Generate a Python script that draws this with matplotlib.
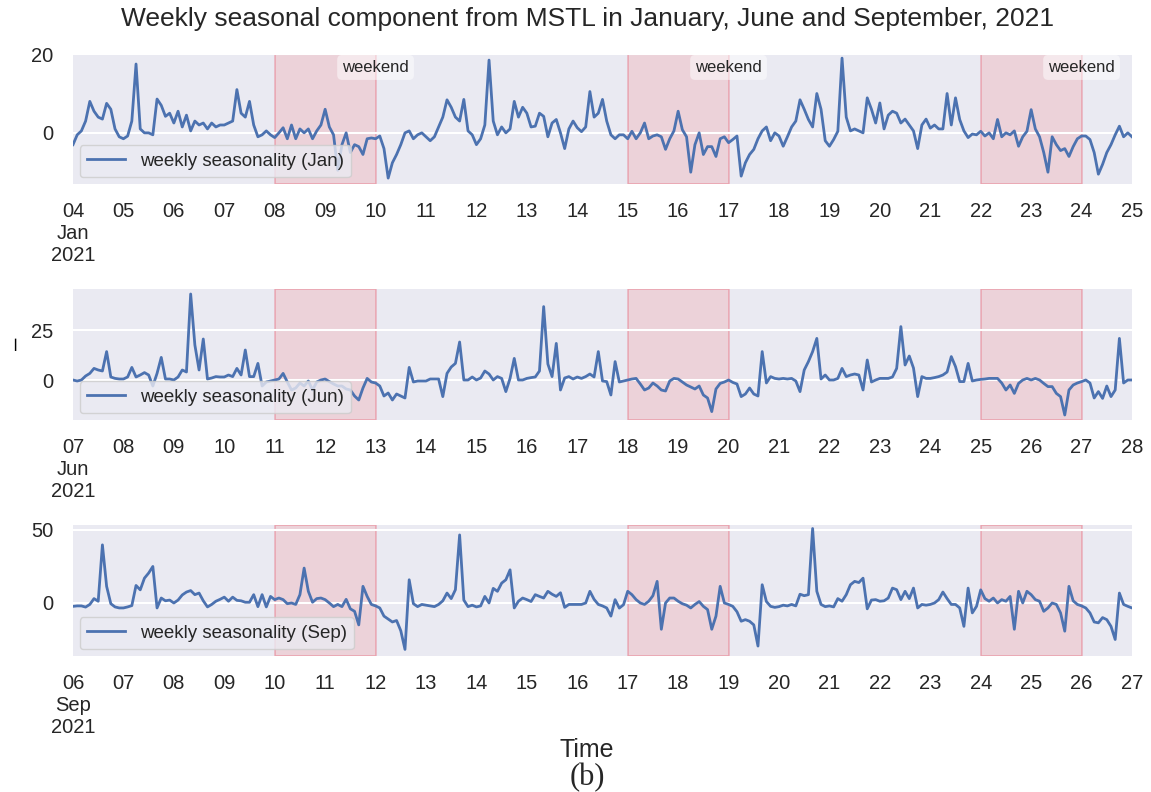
import matplotlib

matplotlib.use("Agg")
import matplotlib.pyplot as plt
import matplotlib.transforms as mtransforms
import pandas as pd

# Weekly seasonal component, every 2 hours (one row per day, 00h..22h)
jan_days = [
    [-3, -0.5, 0.5, 3, 8, 5.5, 4, 3.5, 7.5, 6, 1, -1],          # 04
    [-1.5, -0.8, 3, 17.5, 1, 0, 0, -0.5, 8.6, 7, 4.2, 5],        # 05
    [2.5, 5.5, 1.5, 4.5, 0.5, 3, 2, 2.5, 1, 2.5, 1.5, 2],        # 06
    [2, 2.5, 3, 11, 5, 4, 8, 2, -1, -0.5, 0.5, -0.5],            # 07
    [-1.2, 0, 1.3, -1.5, 2, -1.5, 1, 0, 1, -1.5, 0.5, 2],        # 08
    [6, 1.5, -0.5, -9.5, -3, 0, -5, -3, -3.5, -5.5, -1.5, -1.3], # 09
    [-1.5, -0.8, -4, -11.5, -7.6, -5.5, -3, 0, 0.5, -1.5, -0.5, 0],
    [-1, -2, -1, 1.5, 4, 8.4, 6.5, 4, 3, 8.5, 0.5, -0.5],        # 11
    [-3, -1.5, 2, 18.5, 3, -0.5, 1.5, 0, 1, 8, 4, 6.5],
    [5, 1.5, 1.7, 5, 4.2, -1, 2.5, 3.4, 0, -4, 1, 3],
    [1.3, 0.3, 1.5, 10.5, 4, 5, 8.5, 3, -0.5, -1.5, -0.5, -0.5],
    [-1.5, 0.4, -1.5, 0, 2.5, -1.5, -0.8, -0.5, -1, -4.2, -1.5, 0.5],
    [5.5, 0.8, -1, -10, -3, 0, -5.5, -3.5, -3.5, -6, -1.5, -1],
    [-2.5, -1.7, -0.8, -11, -7.6, -5.5, -4.2, -1.5, 0.5, 1.5, -2, 0],
    [-0.8, -3.4, -1, 1.5, 3, 8.4, 6, 3.4, 1.5, 10, 6, -2],       # 18
    [-3.4, -1.7, 0.4, 19, 4, 0.5, 1, 0.5, 0, 8.9, 6, 2.5],
    [7.6, 1, 4.5, 5.5, 5, 2.5, 3.5, 2, 0.5, -4, 2, 3.5],
    [1.2, 2, 1, 1, 10, 2, 8.9, 3.4, 0.5, -1.2, -0.3, -0.5],
    [0.4, -0.8, 0, -1.5, 3.4, -1, 0, -0.5, 0.5, -3.4, -1, 0.4],
    [5.9, 1, -1, -5, -10, -1, -3, -4.5, -4, -6, -3.5, -1.5],
    [-0.8, -0.8, -1.7, -5, -10.5, -8, -5, -3, -0.5, 1.7, -1, 0],
]
jan_last = -1

jun_days = [
    [0, -0.5, 0, 2, 3.3, 5.8, 5, 4.5, 14.2, 1.5, 0.8, 0.5],      # 07
    [0.5, 1.5, 6.3, 1.5, 2.5, 3.7, 2.5, -3, 3.3, 11.3, 0.5, 0.5],
    [0, 1.5, 5, 4, 43, 17.5, 5, 20.5, 0.5, 1, 1.7, 1.5],
    [1.5, 2.5, 1.7, 5.8, 2.5, 15, 1.7, 1.7, 8.3, -3, -1, -0.5],
    [0, 0.5, 3.3, -1, -5, -4, -1.5, -3, -0.5, -5, -1, 0],
    [0.5, -0.8, -2, -3, -3, -4.5, -5, -8, -10, -4, 0.8, -1],
    [-1.5, -3, -8, -6.5, -10, -7, -8, -9, 6.3, -1, -0.5, -0.5],
    [-0.5, 0.5, 0.5, 0.5, -8.3, 3.3, 6.5, 8.3, 19, 0, 0, 1.5],   # 14
    [0, 1, 4.5, 3, 0, 1.7, 0.8, -5.8, 0.8, 10.8, 0, 0],
    [0.8, 1.2, 1.5, 4.5, 36.7, 8, 1.7, 18.3, -5, 1, 1.7, 0.5],
    [1.5, 0.8, 1.7, 3, 1.5, 14.2, -0.5, -0.8, -7.5, 9.2, -1, -0.5],
    [0, 0.5, 0.8, -2, -5, -4, -1.5, -3, -5, -5.5, -0.5, 0.8],
    [0.5, -1, -2.5, -3.5, -4.5, -3, -7.5, -9, -15.8, -4.5, -1.7, -1],
    [0, -1.2, -2, -8.3, -7, -4, -7, -8, 14.2, -1.5, 1.7, 0.8],
    [0.5, 0.8, 0.5, 0.8, -0.5, -5.8, 5, 9.2, 14.2, 20.8, 0.5, 2.5],  # 21
    [0, 0, 0.8, 5.8, 1.7, 2.5, 3, 2.5, -5, 10, -1, 0],
    [0.8, 0.8, 0.8, 1.5, 5.8, 26.7, 7.5, 12, 6, -8.3, 1.7, 0.8],
    [0.8, 1.2, 1.7, 2.5, 4, 11.7, 6.7, -0.8, -0.8, 8.3, -0.5, 0],
    [0.3, 0.5, 0.8, 0.8, 0.8, -1.5, -5, -2.5, -6.7, -1.7, 0, 0.8],
    [0, 0.8, 0, -1.7, -3.3, -3.3, -6.7, -8.3, -17.5, -5, -2.5, -1.5],
    [-0.8, 0, -1.5, -9, -5.8, -9.2, -3, -8.3, -5, 20.8, -1.5, 0],
]
jun_last = 0

sep_days = [
    [-2.3, -2, -2, -2.8, -1, 3, 1.2, 39.8, 11.4, -0.5, -2.7, -3.4],  # 06
    [-3.4, -2.7, -1.8, 12, 9, 17, 20.5, 25, -3.4, 3.4, 1.5, 2],
    [0, 2, 5.5, 7.5, 8.5, 5.7, 6.8, 1.5, -2.7, -1, 1.2, 2.5],
    [4, 1.2, 4, 1.8, 1.5, 0.5, 0.5, 5.7, -2.5, 5.7, -2.7, 4.5],
    [2.3, 3.4, 2.3, -0.5, 0, -1, 5.7, 23.9, 8, 0.5, 3, 3.4],
    [2.3, 0, -2.5, -1, -2.5, 2.5, -4, -5.7, -15, 11.4, 4.5, -1],
    [-2, -3.4, -9, -11, -13, -12, -19, -31.8, 15.9, -0.5, -2.5, -1],
    [-1.5, -2, -2.5, -1, 1.5, 6.8, 3, 9.1, 46.6, 2, -2.5, -1.5],    # 13
    [-2.7, -2, 4.5, 0, 10, 8, 13.6, 15.9, 22.7, -3.4, 1.2, 3.4],
    [2.3, 1, 5.7, 4.5, 3.4, 8, 6, 4.5, 7, -3, -1, -1],
    [-1, -1, 0, 8, 2.5, -1, -2, -3.4, -9, 2.3, -3.5, -1.2],
    [8, 5.7, 2.3, 0, -1, 1.2, 5, 14.8, -18, 0, 3.4, 3.4],
    [1.2, -0.5, -1.5, -3.4, -1, 1, -2.3, -4.5, -18, -9, 11.4, 0],
    [-1, -2.3, -6, -12.5, -11.4, -12.5, -15, -29.5, 12.5, 1, -2.3, -3],
    [-2.5, -1.5, -2, -1, -2, 6, 5, 5.7, 51, 8, -1, -2.5],          # 20
    [-2, -2.7, 3, 1.2, 5.7, 12.5, 14.8, 14, 17, -4, 2, 2.3],
    [1.2, 1.5, 3.4, 10.2, 9.1, 2.3, 8, 3, 10.2, -3.4, -1, -1.5],
    [-1, 0, 2.3, 7.5, 3, -1, -1, -3.4, -16, 10.2, -6.8, -2.3],
    [9, 3, 1.2, 3.4, 0, 2.3, 1.2, 4.5, -18, 8, 0, 8],
    [5.7, 2.3, 1.2, -5.7, -3.4, 0, -1, -6.8, -19.3, 11.4, 1.5, -1],
    [-2, -3.4, -6.8, -13, -13.6, -10, -11.4, -16, -25, 6.8, -1, -2.3],
]
sep_last = -3.4

jan_weekends = ["2021-01-08", "2021-01-15", "2021-01-22"]
jun_weekends = ["2021-06-11", "2021-06-18", "2021-06-25"]
sep_weekends = ["2021-09-10", "2021-09-17", "2021-09-24"]

LINE = "#4C72B0"
BG = "#EAEAF2"

plt.rcParams.update({
    "font.family": ["Liberation Sans", "DejaVu Sans"],
    "axes.facecolor": BG,
    "axes.grid": True,
    "grid.color": "white",
    "grid.linewidth": 1.5,
    "text.color": "0.15",
    "xtick.color": "0.15",
    "ytick.color": "0.15",
    "xtick.major.size": 0,
    "ytick.major.size": 0,
    "xtick.labelsize": 14.5,
    "ytick.labelsize": 14.5,
})


def draw_panel(ax, start, days, last, weekends, label, yticks, ylim, weekend_text):
    values = [v for day in days for v in day] + [last]
    times = pd.date_range(start, periods=len(values), freq="2h")
    ax.plot(times, values, color=LINE, linewidth=2, label=label, zorder=3)

    trans = mtransforms.blended_transform_factory(ax.transData, ax.transAxes)
    for ws in weekends:
        s = pd.Timestamp(ws)
        e = s + pd.Timedelta(days=2)
        ax.axvspan(s, e, facecolor=(1, 0, 0, 0.1), edgecolor=(0.9, 0.2, 0.3, 0.3), linewidth=1.2, zorder=1)
        if weekend_text:
            ax.text(e, 0.89, "weekend", transform=trans, ha="center", va="center", fontsize=12,
                    bbox=dict(boxstyle="round,pad=0.3", facecolor="white", alpha=0.5, edgecolor="none"),
                    zorder=4)

    day_ticks = pd.date_range(start, periods=len(days) + 1, freq="D")
    labels = [d.strftime("%d") for d in day_ticks]
    labels[0] = day_ticks[0].strftime("%d\n%b\n%Y")
    ax.set_xticks(day_ticks)
    ax.set_xticklabels(labels)
    ax.set_xlim(day_ticks[0], day_ticks[-1])
    ax.set_ylim(*ylim)
    ax.set_yticks(yticks)
    ax.grid(axis="x", visible=False)
    ax.tick_params(axis="x", pad=13)
    ax.tick_params(axis="y", pad=14)
    for sp in ax.spines.values():
        sp.set_visible(False)
    ax.legend(loc="lower left", fontsize=13.5, frameon=True, facecolor=BG, edgecolor="0.8",
              framealpha=0.8, borderaxespad=0.35)


fig = plt.figure(figsize=(11.51, 7.92), dpi=100)
left, width, height = 73 / 1151, 1059 / 1151, 131 / 792
ax1 = fig.add_axes([left, 1 - 184 / 792, width, height])
ax2 = fig.add_axes([left, 1 - 420 / 792, width, height])
ax3 = fig.add_axes([left, 1 - 656 / 792, width, height])

draw_panel(ax1, "2021-01-04", jan_days, jan_last, jan_weekends, "weekly seasonality (Jan)",
           [0, 20], (-13, 20.3), True)
draw_panel(ax2, "2021-06-07", jun_days, jun_last, jun_weekends, "weekly seasonality (Jun)",
           [0, 25], (-20, 45.5), False)
draw_panel(ax3, "2021-09-06", sep_days, sep_last, sep_weekends, "weekly seasonality (Sep)",
           [0, 50], (-36.3, 53.4), False)
ax2.set_ylabel("–", fontsize=16)
ax2.yaxis.set_label_coords(-0.044, 0.58)

fig.text(0.51, 0.976, "Weekly seasonal component from MSTL in January, June and September, 2021",
         ha="center", va="center", fontsize=19)
fig.text(0.51, 0.053, "Time", ha="center", va="center", fontsize=18)
fig.text(0.51, 0.018, "(b)", ha="center", va="center", fontsize=22, family="Liberation Serif")

fig.savefig("out.png", dpi=100)
